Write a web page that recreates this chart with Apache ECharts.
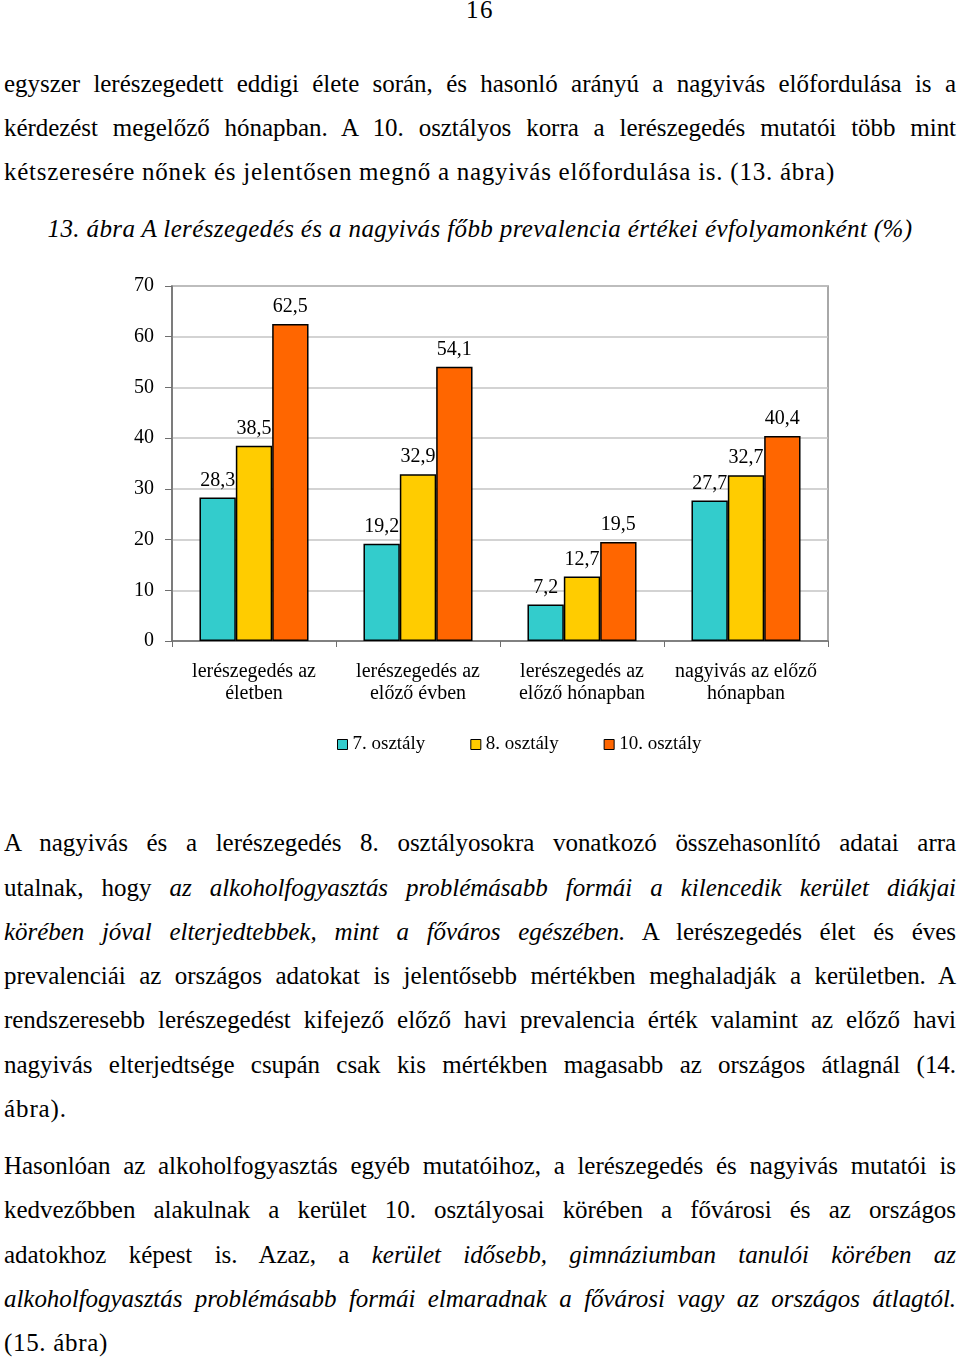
<!DOCTYPE html>
<html>
<head>
<meta charset="utf-8">
<script src="https://cdn.jsdelivr.net/npm/echarts@6/dist/echarts.min.js"></script>
<style>
  html, body { margin: 0; padding: 0; background: #fff; }
  body { width: 960px; height: 1359px; position: relative; overflow: hidden;
         font-family: "Liberation Serif", serif; color: #000; }
  .ln { position: absolute; left: 4px; width: 952px; height: 30px; line-height: 30px;
        font-size: 25px; white-space: nowrap; }
  .j { text-align: justify; text-align-last: justify; }
  .l { text-align: left; }
  #chart { position: absolute; left: 0; top: 260px; width: 960px; height: 530px; }
</style>
</head>
<body>
<div class="ln c" data-w="28" style="top:-5px;left:0;width:960px;text-align:center;">16</div>

<div class="ln j" style="top:69px">egyszer lerészegedett eddigi élete során, és hasonló arányú a nagyivás előfordulása is a</div>
<div class="ln j" style="top:113px">kérdezést megelőző hónapban. A 10. osztályos korra a lerészegedés mutatói több mint</div>
<div class="ln l" id="ref" data-w="831" style="top:157px">kétszeresére nőnek és jelentősen megnő a nagyivás előfordulása is. (13. ábra)</div>

<div class="ln c" data-w="865" style="top:214px;left:0;width:960px;text-align:center;font-style:italic;">13. ábra A lerészegedés és a nagyivás főbb prevalencia értékei évfolyamonként (%)</div>

<div id="chart"></div>

<div class="ln j" style="top:828px">A nagyivás és a lerészegedés 8. osztályosokra vonatkozó összehasonlító adatai arra</div>
<div class="ln j" style="top:873px">utalnak, hogy <i>az alkoholfogyasztás problémásabb formái a kilencedik kerület diákjai</i></div>
<div class="ln j" style="top:917px"><i>körében jóval elterjedtebbek, mint a főváros egészében.</i> A lerészegedés élet és éves</div>
<div class="ln j" style="top:961px">prevalenciái az országos adatokat is jelentősebb mértékben meghaladják a kerületben. A</div>
<div class="ln j" style="top:1005px">rendszeresebb lerészegedést kifejező előző havi prevalencia érték valamint az előző havi</div>
<div class="ln j" style="top:1050px">nagyivás elterjedtsége csupán csak kis mértékben magasabb az országos átlagnál (14.</div>
<div class="ln l" data-w="63" style="top:1094px">ábra).</div>

<div class="ln j" style="top:1151px">Hasonlóan az alkoholfogyasztás egyéb mutatóihoz, a lerészegedés és nagyivás mutatói is</div>
<div class="ln j" style="top:1195px">kedvezőbben alakulnak a kerület 10. osztályosai körében a fővárosi és az országos</div>
<div class="ln j" style="top:1240px">adatokhoz képest is. Azaz, a <i>kerület idősebb, gimnáziumban tanulói körében az</i></div>
<div class="ln j" style="top:1284px"><i>alkoholfogyasztás problémásabb formái elmaradnak a fővárosi vagy az országos átlagtól.</i></div>
<div class="ln l" data-w="104" style="top:1328px">(15. ábra)</div>

<script>
// ---- data ----
const categories = ['lerészegedés az\néletben', 'lerészegedés az\nelőző évben', 'lerészegedés az\nelőző hónapban', 'nagyivás az előző\nhónapban'];
const seriesNames = ['7. osztály', '8. osztály', '10. osztály'];
const grade7 = [28.3, 19.2, 7.2, 27.7];
const grade8 = [38.5, 32.9, 12.7, 32.7];
const grade10 = [62.5, 54.1, 19.5, 40.4];
const yTicks = [0, 10, 20, 30, 40, 50, 60, 70];

// ---- text fitting (letter spacing to approximate the original typeface width) ----
function naturalWidth(el) {
  const span = document.createElement('span');
  span.innerHTML = el.innerHTML;
  span.style.whiteSpace = 'nowrap';
  span.style.letterSpacing = '0px';
  const old = el.innerHTML;
  el.innerHTML = '';
  el.appendChild(span);
  const w = span.getBoundingClientRect().width;
  el.innerHTML = old;
  return w;
}
const refEl = document.getElementById('ref');
const baseLs = (831 - naturalWidth(refEl)) / refEl.textContent.length;
document.querySelectorAll('.ln').forEach(el => {
  const n = el.textContent.length;
  const w0 = naturalWidth(el);
  let ls;
  if (el.dataset.w) ls = (parseFloat(el.dataset.w) - w0) / n;
  else ls = Math.min(baseLs, (948 - w0) / n);
  el.style.letterSpacing = ls + 'px';
});

const colors = ['#33CCCC', '#FFCC00', '#FF6600'];
const font = 'Liberation Serif';
const chart = echarts.init(document.getElementById('chart'));
const mk = (name, data, i) => ({
  name, type: 'bar', data,
  barGap: '0%', barCategoryGap: '33.5%',
  itemStyle: { color: colors[i], borderColor: '#000', borderWidth: 1.5 },
  label: { show: true, position: 'top', distance: 7, color: '#000', fontFamily: font, fontSize: 20,
           formatter: p => String(p.value).replace('.', ',') },
  emphasis: { disabled: true }
});
chart.setOption({
  animation: false,
  textStyle: { fontFamily: font },
  grid: { left: 172, top: 26, width: 656, height: 355, show: true, borderColor: '#8c8c8c', borderWidth: 1.5 },
  legend: {
    data: seriesNames, left: 332, top: 470, itemWidth: 10, itemHeight: 10, itemGap: 45,
    icon: 'rect', textStyle: { fontFamily: font, fontSize: 19, color: '#000' },
    itemStyle: { borderColor: '#000', borderWidth: 1 }
  },
  xAxis: {
    type: 'category', data: categories,
    axisLine: { lineStyle: { color: '#6e6e6e', width: 1.5 } },
    axisTick: { show: true, length: 6, lineStyle: { color: '#6e6e6e' } },
    axisLabel: { color: '#000', fontFamily: font, fontSize: 20, lineHeight: 22, margin: 20, interval: 0 }
  },
  yAxis: {
    type: 'value', min: yTicks[0], max: yTicks[yTicks.length - 1], interval: 10,
    axisLine: { show: true, lineStyle: { color: '#6e6e6e', width: 1.5 } },
    axisTick: { show: true, length: 7, lineStyle: { color: '#6e6e6e' } },
    axisLabel: { color: '#000', fontFamily: font, fontSize: 20, margin: 18 },
    splitLine: { lineStyle: { color: '#c4c4c4', width: 1.5 } }
  },
  series: [mk(seriesNames[0], grade7, 0), mk(seriesNames[1], grade8, 1), mk(seriesNames[2], grade10, 2)]
});
</script>
</body>
</html>
